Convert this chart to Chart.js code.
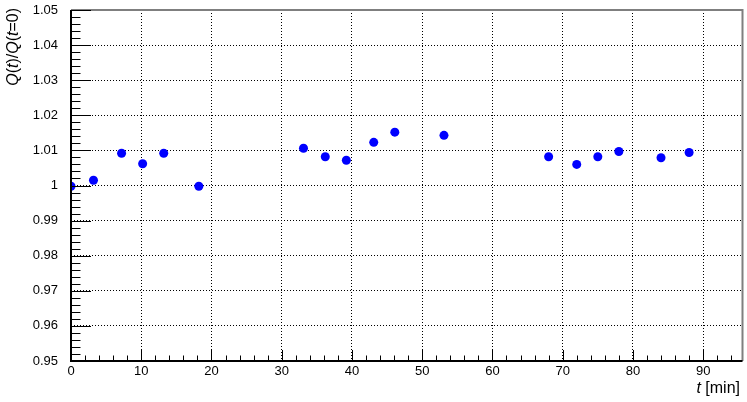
<!DOCTYPE html>
<html>
<head>
<meta charset="utf-8">
<script src="https://cdn.jsdelivr.net/npm/chart.js@4/dist/chart.umd.min.js"></script>
<style>
html,body{margin:0;padding:0;background:#fff;}
#wrap{width:747px;height:402px;position:relative;}
</style>
</head>
<body>
<div id="wrap"><canvas id="c" width="747" height="402"></canvas></div>
<script>
// Data
const timesMin = [0, 3.2, 7.2, 10.2, 13.2, 18.2, 33.1, 36.2, 39.2, 43.1, 46.1, 53.1, 68.0, 72.0, 75.0, 78.0, 84.0, 88.0];
const ratioQ   = [0.9998, 1.0015, 1.0092, 1.0062, 1.0092, 0.9998, 1.0106, 1.0082, 1.0072, 1.0123, 1.0152, 1.0143, 1.0082, 1.0060, 1.0082, 1.0097, 1.0079, 1.0094];
const xRange = [0, 95.6];
const yRange = [0.95, 1.05];
const xTitleParts = [["t", true], [" [min]", false]];
const yTitleParts = [["Q", true], ["(", false], ["t", true], [")/", false], ["Q", true], ["(", false], ["t", true], ["=0)", false]];

const FONT = '"Liberation Sans", Arial, Helvetica, sans-serif';
const isMult = (v, step) => Math.abs(v / step - Math.round(v / step)) < 1e-6;

const points = timesMin.map((t, i) => ({x: t, y: ratioQ[i]}));

const frameAndTicks = {
  id: 'frameAndTicks',
  afterDraw(chart) {
    const ctx = chart.ctx;
    const a = chart.chartArea;
    const xs = chart.scales.x, ys = chart.scales.y;
    ctx.save();
    // top/right frame
    ctx.strokeStyle = '#7f7f7f';
    ctx.lineWidth = 2;
    ctx.beginPath();
    ctx.moveTo(a.left, a.top);
    ctx.lineTo(a.right, a.top);
    ctx.lineTo(a.right, a.bottom);
    ctx.stroke();
    // inward ticks
    ctx.strokeStyle = '#000';
    ctx.lineWidth = 1;
    ctx.beginPath();
    xs.ticks.forEach(t => {
      if (t.value < xRange[0] || t.value > xRange[1]) return;
      const px = Math.round(xs.getPixelForValue(t.value)) + 0.5;
      const len = isMult(t.value, 10) ? 11 : 5.5;
      ctx.moveTo(px, a.bottom);
      ctx.lineTo(px, a.bottom - len);
    });
    ys.ticks.forEach(t => {
      const py = Math.round(ys.getPixelForValue(t.value)) + 0.5;
      const len = isMult(t.value, 0.01) ? 20 : 9.5;
      ctx.moveTo(a.left, py);
      ctx.lineTo(a.left + len, py);
    });
    ctx.stroke();
    // axis lines
    ctx.lineWidth = 2;
    ctx.beginPath();
    ctx.moveTo(a.left, a.top);
    ctx.lineTo(a.left, a.bottom);
    ctx.lineTo(a.right, a.bottom);
    ctx.stroke();

    // titles
    ctx.fillStyle = '#000';
    ctx.textBaseline = 'alphabetic';
    const fnt = it => (it ? 'italic ' : '') + '16px ' + FONT;
    // x title, right aligned
    let w = 0;
    xTitleParts.forEach(([s, it]) => { ctx.font = fnt(it); w += ctx.measureText(s).width; });
    let x = 740 - w;
    xTitleParts.forEach(([s, it]) => { ctx.font = fnt(it); ctx.fillText(s, x, 393); x += ctx.measureText(s).width; });
    // y title, rotated, ending at top
    ctx.translate(18, 8);
    ctx.rotate(-Math.PI / 2);
    w = 0;
    yTitleParts.forEach(([s, it]) => { ctx.font = fnt(it); w += ctx.measureText(s).width; });
    x = -w;
    yTitleParts.forEach(([s, it]) => { ctx.font = fnt(it); ctx.fillText(s, x, 0); x += ctx.measureText(s).width; });
    ctx.restore();
  }
};

new Chart(document.getElementById('c'), {
  type: 'scatter',
  data: {
    datasets: [{
      data: points,
      backgroundColor: '#0000ff',
      borderColor: '#0000ff',
      borderWidth: 0,
      pointRadius: 4.5,
      pointHoverRadius: 4.5,
      showLine: false
    }]
  },
  options: {
    responsive: false,
    animation: false,
    devicePixelRatio: 1,
    layout: {padding: {left: 0, right: 3, top: 10, bottom: 0}},
    plugins: {legend: {display: false}, tooltip: {enabled: false}},
    scales: {
      x: {
        type: 'linear',
        min: xRange[0], max: xRange[1],
        afterFit: s => { s.height = 41; s.paddingLeft = 0; s.paddingRight = 0; },
        border: {display: false, dash: [1, 2]},
        grid: {
          drawTicks: false,
          color: c => (c.tick && isMult(c.tick.value, 10) && c.tick.value > 0 && c.tick.value < xRange[1]) ? '#000' : 'rgba(0,0,0,0)',
          lineWidth: 1
        },
        ticks: {
          stepSize: 2,
          includeBounds: false,
          autoSkip: false,
          maxRotation: 0,
          padding: 3,
          color: '#000',
          font: {family: FONT, size: 13},
          callback: v => isMult(v, 10) ? String(Math.round(v)) : ''
        }
      },
      y: {
        type: 'linear',
        min: yRange[0], max: yRange[1],
        afterFit: s => { s.width = 71; s.paddingTop = 0; s.paddingBottom = 0; },
        border: {display: false, dash: [1, 2]},
        grid: {
          drawTicks: false,
          color: c => (c.tick && isMult(c.tick.value, 0.01) && c.tick.value > yRange[0] + 1e-9 && c.tick.value < yRange[1] - 1e-9) ? '#000' : 'rgba(0,0,0,0)',
          lineWidth: 1
        },
        ticks: {
          stepSize: 0.002,
          autoSkip: false,
          padding: 13,
          color: '#000',
          font: {family: FONT, size: 13},
          callback: v => isMult(v, 0.01) ? (Math.abs(v - 1) < 1e-9 ? '1' : v.toFixed(2)) : ''
        }
      }
    }
  },
  plugins: [frameAndTicks]
});
</script>
</body>
</html>
